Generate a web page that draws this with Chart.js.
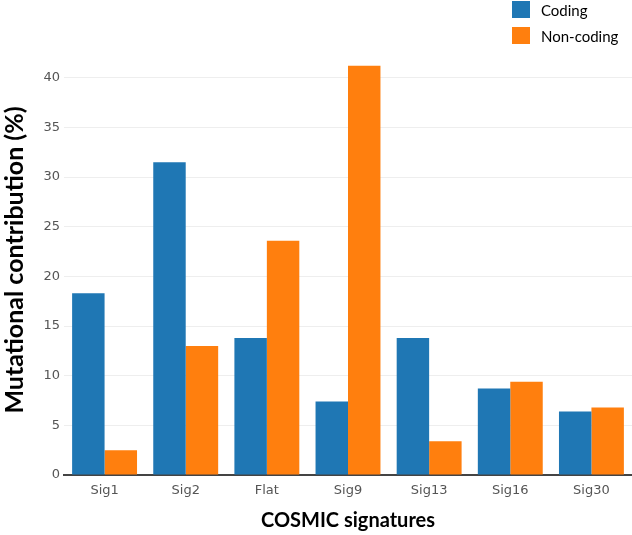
<!DOCTYPE html>
<html>
<head>
<meta charset="utf-8">
<script src="https://cdn.jsdelivr.net/npm/chart.js@4"></script>
<style>
  html, body { margin: 0; padding: 0; background: #fff; }
  #wrap { position: relative; width: 632px; height: 535px; }
  #legend { position: absolute; left: 512px; top: 1px; font-family: Lato, sans-serif; font-size: 15px; color: #000; }
  .item { display: flex; align-items: center; height: 17px; margin-bottom: 9px; }
  .box { width: 18px; height: 17px; margin-right: 11px; }
</style>
</head>
<body>
<div id="wrap">
  <canvas id="chart" width="632" height="535"></canvas>
  <div id="legend"></div>
</div>
<script>
// values
const signatures = ['Sig1', 'Sig2', 'Flat', 'Sig9', 'Sig13', 'Sig16', 'Sig30'];
const coding = [18.3, 31.5, 13.8, 7.4, 13.8, 8.7, 6.4];
const nonCoding = [2.5, 13.0, 23.6, 41.2, 3.4, 9.4, 6.8];
const yTicks = [0, 5, 10, 15, 20, 25, 30, 35, 40];

const seriesNames = ['Coding', 'Non-coding'];
const seriesColours = ['#1f77b4', '#ff7f0e'];

const ctx = document.getElementById('chart').getContext('2d');
const chart = new Chart(ctx, {
  type: 'bar',
  data: {
    labels: signatures,
    datasets: [
      { label: seriesNames[0], data: coding, backgroundColor: seriesColours[0] },
      { label: seriesNames[1], data: nonCoding, backgroundColor: seriesColours[1] }
    ]
  },
  options: {
    responsive: false,
    animation: false,
    layout: { padding: { top: 45, left: 0, right: 0, bottom: 0 } },
    datasets: { bar: { categoryPercentage: 0.8, barPercentage: 1.0 } },
    plugins: { legend: { display: false }, tooltip: { enabled: false } },
    scales: {
      x: {
        grid: { display: false, drawTicks: false },
        border: { display: true, color: '#444', width: 2 },
        ticks: { padding: 8, color: '#555', font: { family: 'DejaVu Sans', size: 13 } },
        title: {
          display: true, text: 'COSMIC signatures', color: '#000',
          font: { family: 'Lato', size: 20, weight: 'bold' }, padding: { top: 0, bottom: 2 }
        },
        afterFit: scale => { scale.height = 60; }
      },
      y: {
        min: 0,
        max: 43.3,
        grid: { color: '#eeeeee', drawTicks: false },
        border: { display: false },
        ticks: { stepSize: 5, padding: 4, color: '#555', font: { family: 'DejaVu Sans', size: 13 } },
        afterBuildTicks: axis => { axis.ticks = yTicks.map(v => ({ value: v })); },
        title: {
          display: true, text: 'Mutational contribution (%)', color: '#000',
          font: { family: 'Lato', size: 25, weight: 'bold' }, padding: 0
        },
        afterFit: scale => { scale.width = 64; }
      }
    }
  }
});

// legend stacked at top right, built from the datasets
const legend = document.getElementById('legend');
chart.data.datasets.forEach(ds => {
  const item = document.createElement('div');
  item.className = 'item';
  const box = document.createElement('span');
  box.className = 'box';
  box.style.background = ds.backgroundColor;
  const txt = document.createElement('span');
  txt.textContent = ds.label;
  item.appendChild(box);
  item.appendChild(txt);
  legend.appendChild(item);
});
</script>
</body>
</html>
